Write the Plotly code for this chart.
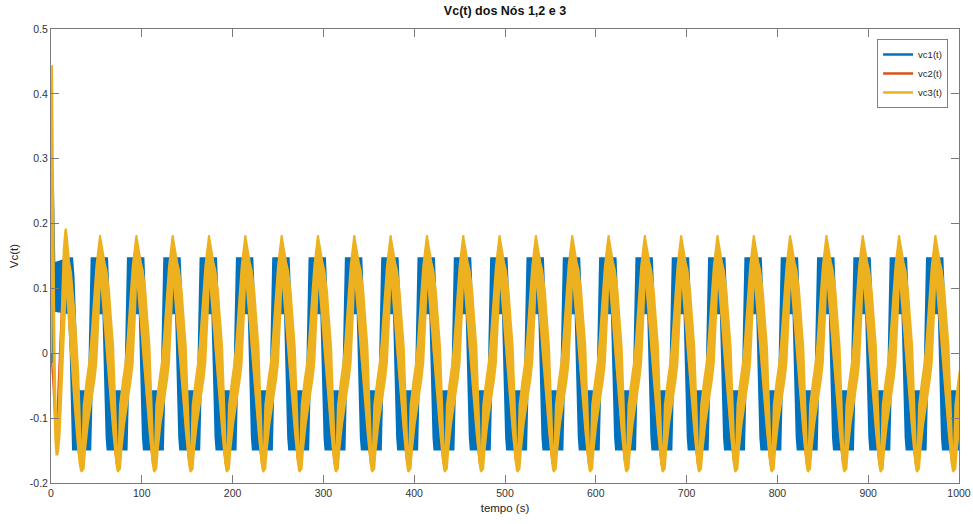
import plotly.graph_objects as go

# ---------------- data ----------------
# yellow (vc3) peak times of the steady-state cycles (s)
peak_times = [54, 94, 134, 174, 214, 254, 294, 334, 374, 414, 454, 494, 534,
              574, 614, 654, 694, 734, 774, 814, 854, 894, 934, 974, 1014]

# start-up transient (t = 0 .. 34 s)
vc1_t0 = [0, 0.8, 1.6, 2.4, 3.4, 20.0, 22.0, 23.0, 24.5, 25.5, 27.0, 28.5, 30.0]
vc1_u0 = [0.0, -0.005, 0.28, 0.18, 0.138, 0.146, 0.146, 0.146, 0.12, 0.07, 0.0, -0.04, -0.059]
vc1_l0 = [0.0, -0.015, 0.22, 0.10, 0.066, 0.062, 0.0, -0.06, -0.148, -0.148, -0.148, -0.148, -0.148]

vc2_t0 = [0, 2, 5, 6.5, 8, 10, 12, 14, 16, 18, 20, 22, 24, 26, 28, 31, 33.5]
vc2_v0 = [0.0, -0.04, -0.124, -0.10, -0.05, 0.02, 0.10, 0.15, 0.165, 0.13, 0.08, 0.03,
          -0.02, -0.07, -0.12, -0.16, -0.175]

vc3_t0 = [0, 0.6, 1.2, 2.0, 3.0, 4.0, 5.0, 6.0, 7.0, 8.0, 9.5, 11, 12.5, 14, 15.5, 16.3,
          17.3, 18.5, 20, 22, 24, 26, 28, 30, 31.5, 32.8, 33.5]
vc3_u0 = [0.0, 0.444, 0.444, 0.30, 0.12, 0.0, -0.08, -0.13, -0.14, -0.11, -0.04, 0.03, 0.10,
          0.16, 0.186, 0.192, 0.182, 0.165, 0.14, 0.125, 0.095, 0.06, 0.02, -0.03, -0.09, -0.15, -0.175]
vc3_l0 = [0.0, 0.38, 0.33, 0.15, -0.02, -0.10, -0.14, -0.156, -0.156, -0.15, -0.125, -0.09,
          -0.04, 0.02, 0.07, 0.12, 0.10, 0.07, 0.03, 0.0, -0.04, -0.08, -0.12, -0.15, -0.17, -0.18, -0.182]

# steady-state cycle, time relative to each vc3 peak (s): upper / lower envelopes
vc1_tau = [-20, -12, -11, -10, -9, -8, -7, -6.5, 4, 5, 6, 7, 7.5, 8.5, 10, 11.5, 13]
vc1_up = [-0.059, -0.059, 0.01, 0.08, 0.146, 0.146, 0.146, 0.146, 0.146, 0.146, 0.146, 0.146,
          0.146, 0.11, 0.04, -0.02, -0.059]
vc1_lo = [-0.148, -0.148, -0.148, -0.10, -0.03, 0.02, 0.05, 0.062, 0.062, 0.02, -0.04, -0.10,
          -0.13, -0.148, -0.148, -0.148, -0.148]

vc2_tau = [-20, -17, -14, -11, -9, -7, -5, -3, -1.5, 0, 1, 3, 5, 7, 9, 11.5, 14, 16, 18, 19.5]
vc2_val = [-0.17, -0.09, -0.06, -0.03, 0.0, 0.05, 0.095, 0.135, 0.16, 0.17, 0.13, 0.08, 0.04,
           0.005, -0.03, -0.075, -0.115, -0.145, -0.17, -0.175]

vc3_tau_up = [-20, -19.5, -19, -18, -15, -12, -10, -8, -6, -4, -2, -0.8, 0, 0.5, 1.5, 3, 5, 7,
              8.5, 10, 11.5, 13, 14.5, 15.5, 16.5, 17.5, 18.5, 19.2]
vc3_up = [-0.174, -0.15, -0.12, -0.08, -0.045, -0.015, 0.015, 0.05, 0.095, 0.135, 0.16, 0.175,
          0.182, 0.177, 0.167, 0.155, 0.14, 0.128, 0.115, 0.095, 0.065, 0.04, 0.01, -0.03,
          -0.07, -0.11, -0.15, -0.174]
vc3_tau_lo = [-20, -18, -16.5, -13.5, -10.5, -8, -6, -4, -2.5, -1.5, -0.5, 0.5, 1.5, 3, 4.5, 6,
              7, 8.5, 10.5, 12.5, 14.5, 16.5, 18, 19.2]
vc3_lo = [-0.182, -0.178, -0.15, -0.11, -0.08, -0.06, -0.04, -0.015, 0.02, 0.06, 0.10, 0.12,
          0.105, 0.085, 0.06, 0.03, 0.01, -0.02, -0.055, -0.085, -0.12, -0.15, -0.17, -0.181]

x_ticks = [0, 100, 200, 300, 400, 500, 600, 700, 800, 900, 1000]
y_ticks = [-0.2, -0.1, 0, 0.1, 0.2, 0.3, 0.4, 0.5]
y_tick_text = ["-0.2", "-0.1", "0", "0.1", "0.2", "0.3", "0.4", "0.5"]

names = ["vc1(t)", "vc2(t)", "vc3(t)"]
colors = ["#0072BD", "#D95319", "#EDB120"]


def series(t0, v0, tau, val):
    xs, ys = list(t0), list(v0)
    for p in peak_times:
        for tt, vv in zip(tau, val):
            xs.append(p + tt)
            ys.append(vv)
    return xs, ys


def band(t0, u0, l0, tau_u, up, tau_l, lo):
    xu, yu = series(t0, u0, tau_u, up)
    xl, yl = series(t0, l0, tau_l, lo)
    return xu + xl[::-1], yu + yl[::-1]


fig = go.Figure()

bx, by = band(vc1_t0, vc1_u0, vc1_l0, vc1_tau, vc1_up, vc1_tau, vc1_lo)
fig.add_trace(go.Scatter(x=bx, y=by, mode="lines", fill="toself", fillcolor=colors[0],
                         line=dict(color=colors[0], width=2.5), showlegend=False, hoverinfo="skip"))

rx, ry = series(vc2_t0, vc2_v0, vc2_tau, vc2_val)
fig.add_trace(go.Scatter(x=rx, y=ry, mode="lines", line=dict(color=colors[1], width=1.5),
                         showlegend=False, hoverinfo="skip"))

yx, yy = band(vc3_t0, vc3_u0, vc3_l0, vc3_tau_up, vc3_up, vc3_tau_lo, vc3_lo)
fig.add_trace(go.Scatter(x=yx, y=yy, mode="lines", fill="toself", fillcolor=colors[2],
                         line=dict(color=colors[2], width=2), showlegend=False, hoverinfo="skip"))

for n, c in zip(names, colors):
    fig.add_trace(go.Scatter(x=[None], y=[None], mode="lines", name=n,
                             line=dict(color=c, width=2.5)))

axis_style = dict(showline=True, linecolor="#7a7a7a", linewidth=1, mirror="allticks",
                  ticks="inside", ticklen=8, tickcolor="#7a7a7a", showgrid=False,
                  zeroline=False, automargin=False, tickfont=dict(size=10.5, color="#333333"))

fig.update_layout(
    width=973, height=524,
    margin=dict(l=51, r=14, t=29, b=41, autoexpand=False),
    paper_bgcolor="white", plot_bgcolor="white",
    font=dict(family="Liberation Sans, Arial, sans-serif", size=10.5, color="#262626"),
    title=dict(text="<b>Vc(t) dos Nós 1,2 e 3</b>", x=0.5, xref="paper",
               y=1 - 11 / 524, yref="container", yanchor="middle",
               font=dict(size=12.5, color="#111111")),
    legend=dict(x=0.988, xanchor="right", y=0.978, yanchor="top",
                bordercolor="#808080", borderwidth=1, bgcolor="white",
                font=dict(size=9.5, color="#262626"), tracegroupgap=0, itemwidth=30),
)
fig.update_xaxes(range=[0, 1000], tickvals=x_ticks,
                 title=dict(text="tempo (s)", font=dict(size=11.5), standoff=6), **axis_style)
fig.update_yaxes(range=[-0.2, 0.5], tickvals=y_ticks, ticktext=y_tick_text,
                 title=dict(text="Vc(t)", font=dict(size=11.5), standoff=8), **axis_style)

fig.write_html("out.html", config={"displayModeBar": False},
               post_script="document.body.style.margin='0px';")
